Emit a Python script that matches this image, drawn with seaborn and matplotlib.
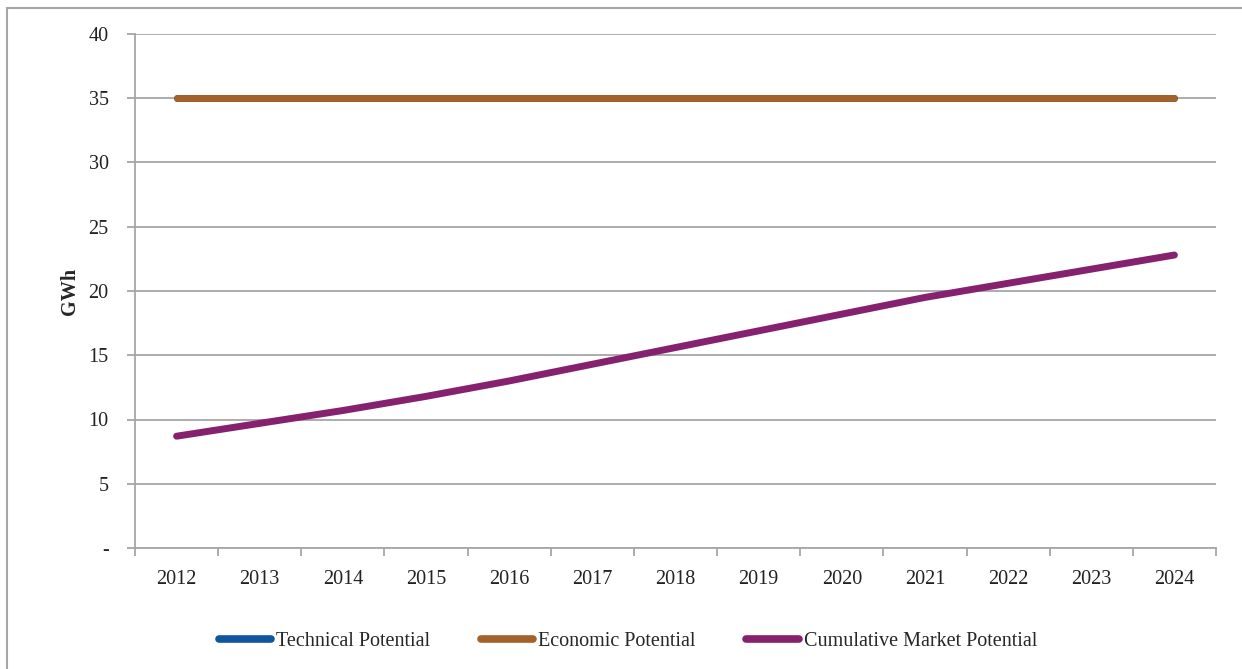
import numpy as np
import pandas as pd
import matplotlib
matplotlib.use("Agg")
import matplotlib.pyplot as plt
import seaborn as sns
from matplotlib.lines import Line2D
from matplotlib.patches import Rectangle

# data (GWh)
years = list(range(2012, 2025))
technical = [35.0] * 13
economic = [35.0] * 13
market = [8.7, 9.7, 10.7, 11.8, 13.0, 14.3, 15.6, 16.9, 18.2, 19.5, 20.6, 21.7, 22.8]
series_names = ["Technical Potential", "Economic Potential", "Cumulative Market Potential"]
colors = ["#11559e", "#a2622a", "#86216f"]
ytick_vals = [0, 5, 10, 15, 20, 25, 30, 35, 40]
ytick_labels = ["-", "5", "10", "15", "20", "25", "30", "35", "40"]

df = pd.DataFrame({
    "Year": years * 3,
    "GWh": technical + economic + market,
    "Series": [series_names[0]] * 13 + [series_names[1]] * 13 + [series_names[2]] * 13,
})

sns.set_style("white")
plt.rcParams["font.family"] = ["Liberation Serif", "DejaVu Serif"]
grid_c = "#a6a6a6"
fs = 14.5

fig = plt.figure(figsize=(12.42, 6.69), dpi=100)
ax = fig.add_axes([135 / 1242, 1 - 548 / 669, (1216 - 135) / 1242, (548 - 34) / 669])

sns.lineplot(data=df, x="Year", y="GWh", hue="Series", hue_order=series_names,
             palette=colors, linewidth=5, legend=False, ax=ax,
             solid_capstyle="round", solid_joinstyle="round")

ax.set_xlim(2011.5, 2024.5)
ax.set_ylim(0, 40)
ax.set_yticks(ytick_vals)
ax.set_yticklabels(ytick_labels, fontsize=fs, color="#222222")
ax.set_xticks(years)
ax.set_xticklabels([str(y) for y in years], fontsize=fs, color="#222222")
ax.set_xticks(np.arange(2011.5, 2025, 1.0), minor=True)
ax.tick_params(axis="x", which="major", bottom=True, length=0, pad=16)
ax.tick_params(axis="x", which="minor", bottom=True, length=6, width=1.3, color=grid_c, direction="out")
ax.tick_params(axis="y", which="major", left=True, length=6, width=1.3, color=grid_c, direction="out", pad=13)

ax.yaxis.grid(True, color=grid_c, linewidth=1.3)
ax.xaxis.grid(False)
ax.set_axisbelow(True)
for s in ["top", "right"]:
    ax.spines[s].set_visible(False)
for s in ["left", "bottom"]:
    ax.spines[s].set_color(grid_c)
    ax.spines[s].set_linewidth(1.3)

ax.set_xlabel("")
ax.set_ylabel("GWh", fontsize=fs, fontweight="bold", labelpad=6)

handles = [Line2D([0], [0], color=c, linewidth=5.5, solid_capstyle="round") for c in colors]
fig.legend(handles, series_names, loc="center", bbox_to_anchor=(628 / 1242, 1 - 641 / 669),
           ncol=3, frameon=False, fontsize=fs, handlelength=2.6, handletextpad=0.25,
           columnspacing=2.5)

fig.add_artist(Rectangle((7 / 1242, -0.05), 1.1, 1 - 8 / 669 + 0.05, transform=fig.transFigure,
                         fill=False, edgecolor="#a6a6a6", linewidth=1.5))

fig.savefig("out.png", dpi=100)
